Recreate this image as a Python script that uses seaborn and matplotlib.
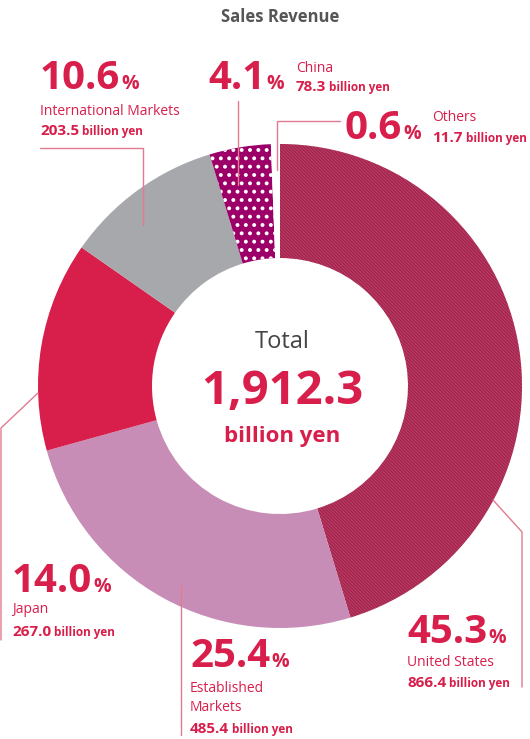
import matplotlib
matplotlib.use("Agg")
import matplotlib.pyplot as plt
import seaborn as sns

sns.set_theme(style="white")
plt.rcParams["font.family"] = ["Open Sans", "DejaVu Sans"]
plt.rcParams["hatch.linewidth"] = 1.6

# Data
regions = ["United States", "Established Markets", "Japan", "International Markets", "China", "Others"]
shares = [45.3, 25.4, 14.0, 10.6, 4.1, 0.6]
amounts = [866.4, 485.4, 267.0, 203.5, 78.3, 11.7]
total = 1912.3

RED = "#d81e4a"
LINE = "#e27a90"
faces = ["#f3d6de", "#c88db6", "#d81e4a", "#a7a8ab", "#9c0068", "white"]
hatches = ["\\" * 10, None, None, None, "..", None]
hcols = ["#a82550", None, None, None, "white", None]

fig = plt.figure(figsize=(5.30, 7.39), dpi=100)
ax = fig.add_axes([0, 0, 1, 1])
# y axis is inverted (pixel coords), so go counterclockwise from -90 to look clockwise from the top
wedges, _ = ax.pie(shares, startangle=-90, counterclock=True, center=(280, 386), radius=242,
                   colors=faces, wedgeprops=dict(width=114, linewidth=0), frame=True)
for w, h, hc in zip(wedges, hatches, hcols):
    if h:
        w.set_hatch(h)
        w.set_edgecolor(hc)
        w.set_linewidth(0)
ax.set_xlim(0, 530)
ax.set_ylim(739, 0)
ax.set_aspect("equal")
ax.axis("off")

# leader lines
for xs, ys in [([143, 143, 40], [225, 148, 148]),
               ([238, 238], [185, 101]),
               ([277, 277, 340], [170, 121, 121]),
               ([38, 1, 1], [393, 428, 640]),
               ([493, 522, 522], [500, 532, 687]),
               ([181, 181], [586, 735])]:
    ax.plot(xs, ys, color=LINE, lw=1)

fig.canvas.draw()
rend = fig.canvas.get_renderer()


def pieces(x, y, parts):
    # draw text parts side by side on one baseline
    for s, size, weight, gap in parts:
        t = ax.text(x, y, s, fontsize=size, fontweight=weight, color=RED, va="baseline", ha="left")
        bb = t.get_window_extent(rend)
        x += bb.width * 530 / fig.bbox.width + gap


def big(x, y, i):
    pieces(x, y, [(f"{shares[i]:.1f}", 29, "bold", 1), ("%", 14, "bold", 0)])


def amount(x, y, i):
    pieces(x, y, [(f"{amounts[i]:.1f}", 11, "bold", 3), ("billion yen", 8.5, "bold", 0)])


def label(x, y, i, big_y, name_lines, amt_y):
    big(x, big_y, i)
    for k, ln in enumerate(name_lines):
        ax.text(x, y + k * 19, ln, fontsize=10, color=RED, va="baseline")
    amount(x, amt_y, i)


ax.text(280, 22, "Sales Revenue", ha="center", va="baseline", fontsize=12, fontweight="bold", color="#555555")
label(40, 115, 3, 89, ["International Markets"], 135)
big(208, 89, 4)
ax.text(296, 72, "China", fontsize=10, color=RED, va="baseline")
amount(296, 91, 4)
big(345, 139, 5)
ax.text(432, 121, "Others", fontsize=10, color=RED, va="baseline")
amount(432, 142, 5)
label(12, 613, 2, 592, ["Japan"], 636)
label(190, 692, 1, 667, ["Established", "Markets"], 733)
label(407, 666, 0, 643, ["United States"], 687)

ax.text(282, 348, "Total", ha="center", va="baseline", fontsize=17, color="#444444")
ax.text(282, 404, f"{total:,.1f}", ha="center", va="baseline", fontsize=34, fontweight="bold", color=RED)
ax.text(282, 442, "billion yen", ha="center", va="baseline", fontsize=16, fontweight="bold", color=RED)

fig.savefig("out.png", dpi=100)
